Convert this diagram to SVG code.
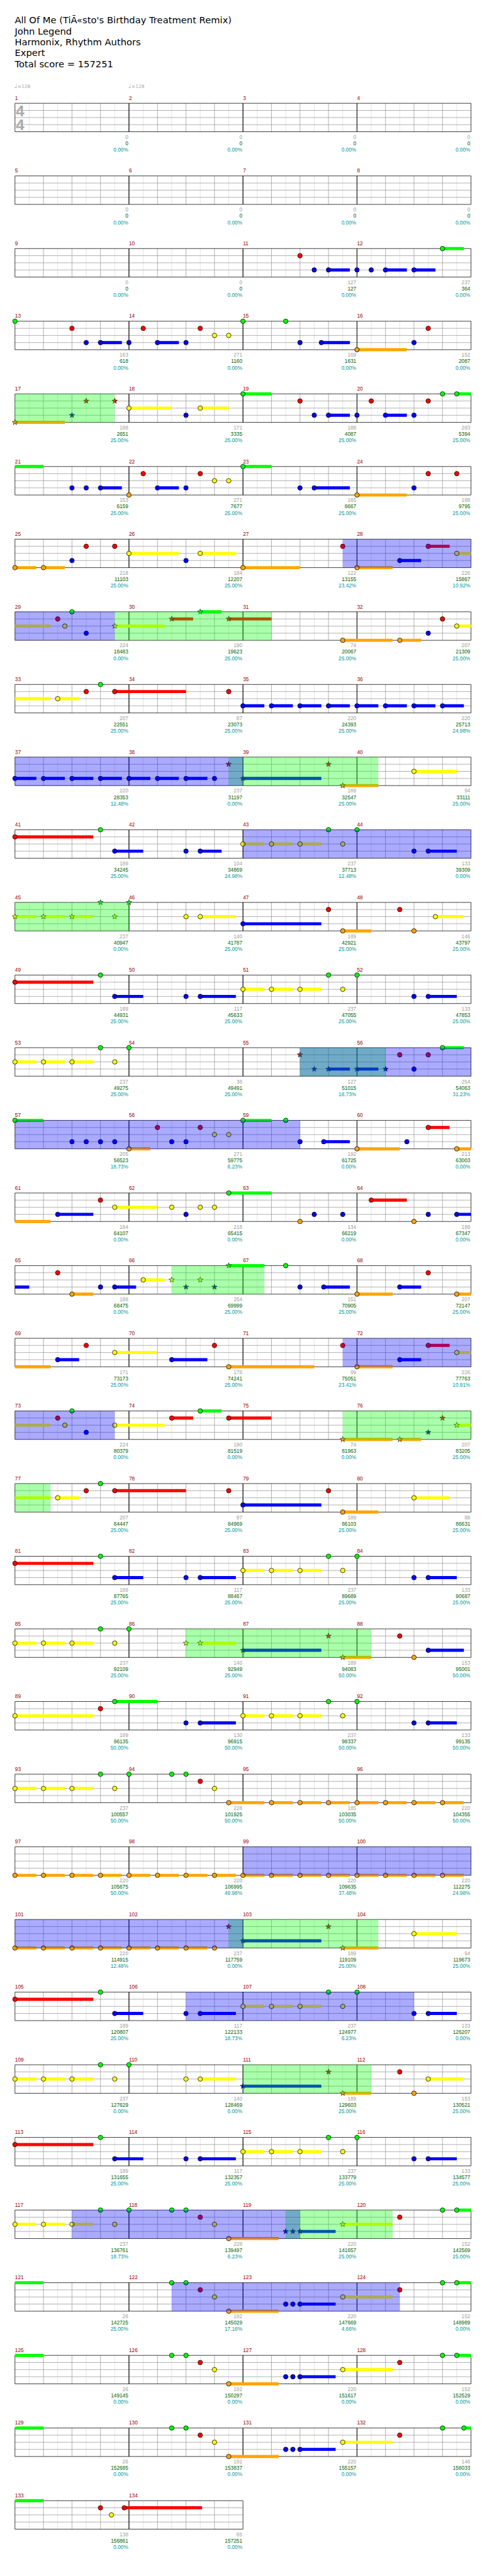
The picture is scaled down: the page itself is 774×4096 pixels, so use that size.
<svg xmlns="http://www.w3.org/2000/svg" width="774" height="4096" viewBox="0 0 774 4096">
<style>
.hd{font-family:"DejaVu Sans","Liberation Sans",sans-serif;font-size:19.5px;fill:#000}
.mn{font-family:"Liberation Sans",Arial,sans-serif;font-size:11px;fill:#900}
.s1,.s2,.s3{font-family:"Liberation Sans",Arial,sans-serif;font-size:11px;text-anchor:end}
.s1{fill:#a0a0a0}.s2{fill:#006400}.s3{fill:#009999}
.ts{font-family:"Liberation Sans",Arial,sans-serif;font-size:32px;font-weight:bold;fill:#aaa}
.tp{font-family:"DejaVu Sans",sans-serif;fill:#aaa}
circle{stroke:#000;stroke-width:1}
.g{fill:#0f0}.r{fill:#f00}.y{fill:#ff0}.b{fill:#00f}.o{fill:#ffa500}
.sg,.sr,.sy,.sb,.so{fill:none;stroke-width:6.5}
.sg{stroke:#0f0}.sr{stroke:#f00}.sy{stroke:#ff0}.sb{stroke:#00f}.so{stroke:#ffa500}
.od{fill:#0f0;fill-opacity:.333}
.bo{fill:#00f;fill-opacity:.333}
</style>
<defs>
<path id="st" d="M0,-6L1.41,-1.94L5.71,-1.85L2.28,.74L3.53,4.85L0,2.4L-3.53,4.85L-2.28,.74L-5.71,-1.85L-1.41,-1.94Z" stroke="#000" stroke-width=".8"/>
<g id="m" fill="none">
<path d="M30 0V60M90 0V60M150 0V60M210 0V60" stroke="#ddd"/>
<path d="M60 0V60M120 0V60M180 0V60M0 15H240M0 30H240M0 45H240" stroke="#999"/>
<path d="M0 0H240M0 60H240M0 0V60M240 0V60" stroke="#000"/>
</g>
<g id="pA">
<path class="sr" d="M0 15h165"/>
<path class="sb" d="M210 45h60M390 45h75M870 45h60"/>
<path class="sy" d="M480 30h45M540 30h45M600 30h45"/>
<circle class="r" cx="0" cy="15" r="4.8"/><circle class="g" cx="180" cy="0" r="4.8"/><circle class="b" cx="210" cy="45" r="4.8"/><circle class="b" cx="360" cy="45" r="4.8"/><circle class="b" cx="390" cy="45" r="4.8"/><circle class="y" cx="480" cy="30" r="4.8"/><circle class="y" cx="540" cy="30" r="4.8"/><circle class="y" cx="600" cy="30" r="4.8"/><circle class="g" cx="660" cy="0" r="4.8"/><circle class="y" cx="690" cy="30" r="4.8"/><circle class="g" cx="720" cy="0" r="4.8"/><circle class="b" cx="840" cy="45" r="4.8"/><circle class="b" cx="870" cy="45" r="4.8"/>
</g>
<g id="pB">
<path class="sg" d="M0 0h60"/>
<path class="so" d="M450 60h105"/>
<path class="sb" d="M600 45h75"/>
<path class="sy" d="M690 30h105"/>
<circle class="g" cx="330" cy="0" r="4.8"/><circle class="g" cx="360" cy="0" r="4.8"/><circle class="r" cx="390" cy="15" r="4.8"/><circle class="y" cx="420" cy="30" r="4.8"/><circle class="o" cx="450" cy="60" r="4.8"/><circle class="b" cx="570" cy="45" r="4.8"/><circle class="b" cx="585" cy="45" r="4.8"/><circle class="b" cx="600" cy="45" r="4.8"/><circle class="y" cx="690" cy="30" r="4.8"/><circle class="r" cx="810" cy="15" r="4.8"/><circle class="g" cx="900" cy="0" r="4.8"/>
</g>
<g id="pC">
<path class="sy" d="M0 30h45M60 30h45M120 30h45"/>
<circle class="y" cx="0" cy="30" r="4.8"/><circle class="y" cx="60" cy="30" r="4.8"/><circle class="y" cx="120" cy="30" r="4.8"/><circle class="g" cx="180" cy="0" r="4.8"/><circle class="y" cx="210" cy="30" r="4.8"/><circle class="g" cx="240" cy="0" r="4.8"/>
</g>
</defs>
<g transform="scale(0.755)">
<g id="header" class="hd">
<text x="31" y="49.3">All Of Me (TiÃ«sto's Birthday Treatment Remix)</text>
<text x="31" y="72.3">John Legend</text>
<text x="31" y="95.3">Harmonix, Rhythm Authors</text>
<text x="31" y="118.3">Expert</text>
<text x="31" y="141.3">Total score = 157251</text>
</g>
<g id="tempo" class="tp">
<text x="30" y="185" font-size="14">♩<tspan font-size="10">=128</tspan></text>
<text x="270" y="185" font-size="14">♩<tspan font-size="10">=128</tspan></text>
</g>

<g id="r1" transform="translate(31.5,217.5)">
<use href="#m"/><use href="#m" x="240"/><use href="#m" x="480"/><use href="#m" x="720"/>
<text class="ts" x="2" y="27.5">4</text><text class="ts" x="2" y="56.5">4</text>
<text class="mn" y="-7"><tspan x="0">1</tspan><tspan x="240">2</tspan><tspan x="480">3</tspan><tspan x="720">4</tspan></text>
<text class="s1" y="75"><tspan x="238.5">0</tspan><tspan x="478.5">0</tspan><tspan x="718.5">0</tspan><tspan x="958.5">0</tspan></text>
<text class="s2" y="88.3"><tspan x="238.5">0</tspan><tspan x="478.5">0</tspan><tspan x="718.5">0</tspan><tspan x="958.5">0</tspan></text>
<text class="s3" y="101.7"><tspan x="238.5">0.00%</tspan><tspan x="478.5">0.00%</tspan><tspan x="718.5">0.00%</tspan><tspan x="958.5">0.00%</tspan></text>
</g>

<g id="r2" transform="translate(31.5,370.5)">
<use href="#m"/><use href="#m" x="240"/><use href="#m" x="480"/><use href="#m" x="720"/>
<text class="mn" y="-7"><tspan x="0">5</tspan><tspan x="240">6</tspan><tspan x="480">7</tspan><tspan x="720">8</tspan></text>
<text class="s1" y="75"><tspan x="238.5">0</tspan><tspan x="478.5">0</tspan><tspan x="718.5">0</tspan><tspan x="958.5">0</tspan></text>
<text class="s2" y="88.3"><tspan x="238.5">0</tspan><tspan x="478.5">0</tspan><tspan x="718.5">0</tspan><tspan x="958.5">0</tspan></text>
<text class="s3" y="101.7"><tspan x="238.5">0.00%</tspan><tspan x="478.5">0.00%</tspan><tspan x="718.5">0.00%</tspan><tspan x="958.5">0.00%</tspan></text>
</g>

<g id="r3" transform="translate(31.5,523.5)">
<use href="#m"/><use href="#m" x="240"/><use href="#m" x="480"/><use href="#m" x="720"/>
<path class="sb" d="M660 45h45M780 45h45M840 45h45"/><path class="sg" d="M900 0h45"/>
<circle class="r" cx="600" cy="15" r="4.8"/><circle class="b" cx="630" cy="45" r="4.8"/><circle class="b" cx="660" cy="45" r="4.8"/><circle class="b" cx="720" cy="45" r="4.8"/><circle class="b" cx="750" cy="45" r="4.8"/><circle class="b" cx="780" cy="45" r="4.8"/><circle class="b" cx="840" cy="45" r="4.8"/><circle class="g" cx="900" cy="0" r="4.8"/>
<text class="mn" y="-7"><tspan x="0">9</tspan><tspan x="240">10</tspan><tspan x="480">11</tspan><tspan x="720">12</tspan></text>
<text class="s1" y="75"><tspan x="238.5">0</tspan><tspan x="478.5">0</tspan><tspan x="718.5">127</tspan><tspan x="958.5">237</tspan></text>
<text class="s2" y="88.3"><tspan x="238.5">0</tspan><tspan x="478.5">0</tspan><tspan x="718.5">127</tspan><tspan x="958.5">364</tspan></text>
<text class="s3" y="101.7"><tspan x="238.5">0.00%</tspan><tspan x="478.5">0.00%</tspan><tspan x="718.5">0.00%</tspan><tspan x="958.5">0.00%</tspan></text>
</g>

<g id="r4" transform="translate(31.5,676.5)">
<use href="#m"/><use href="#m" x="240"/><use href="#m" x="480"/><use href="#m" x="720"/>
<path class="sb" d="M180 45h45M300 45h45M645 45h60"/><path class="so" d="M720 60h105"/>
<circle class="g" cx="0" cy="0" r="4.8"/><circle class="r" cx="120" cy="15" r="4.8"/><circle class="b" cx="150" cy="45" r="4.8"/><circle class="b" cx="180" cy="45" r="4.8"/><circle class="b" cx="240" cy="45" r="4.8"/><circle class="r" cx="270" cy="15" r="4.8"/><circle class="b" cx="300" cy="45" r="4.8"/><circle class="b" cx="360" cy="45" r="4.8"/><circle class="r" cx="390" cy="15" r="4.8"/><circle class="y" cx="420" cy="30" r="4.8"/><circle class="y" cx="450" cy="30" r="4.8"/><circle class="g" cx="480" cy="0" r="4.8"/><circle class="g" cx="570" cy="0" r="4.8"/><circle class="b" cx="600" cy="45" r="4.8"/><circle class="b" cx="645" cy="45" r="4.8"/><circle class="o" cx="720" cy="60" r="4.8"/><circle class="b" cx="840" cy="45" r="4.8"/><circle class="r" cx="870" cy="15" r="4.8"/>
<text class="mn" y="-7"><tspan x="0">13</tspan><tspan x="240">14</tspan><tspan x="480">15</tspan><tspan x="720">16</tspan></text>
<text class="s1" y="75"><tspan x="238.5">163</tspan><tspan x="478.5">271</tspan><tspan x="718.5">169</tspan><tspan x="958.5">152</tspan></text>
<text class="s2" y="88.3"><tspan x="238.5">618</tspan><tspan x="478.5">1160</tspan><tspan x="718.5">1631</tspan><tspan x="958.5">2087</tspan></text>
<text class="s3" y="101.7"><tspan x="238.5">0.00%</tspan><tspan x="478.5">0.00%</tspan><tspan x="718.5">0.00%</tspan><tspan x="958.5">0.00%</tspan></text>
</g>

<g id="r5" transform="translate(31.5,829.5)">
<use href="#m"/><use href="#m" x="240"/><use href="#m" x="480"/><use href="#m" x="720"/>
<path class="so" d="M0 60h105"/><path class="sy" d="M240 30h90M390 30h60"/><path class="sg" d="M480 0h60M930 0h30"/><path class="sb" d="M660 45h45M780 45h45"/>
<use href="#st" class="o" x="0" y="60"/><use href="#st" class="b" x="120" y="45"/><use href="#st" class="r" x="150" y="15"/><use href="#st" class="r" x="210" y="15"/>
<circle class="y" cx="240" cy="30" r="4.8"/><circle class="b" cx="360" cy="45" r="4.8"/><circle class="y" cx="390" cy="30" r="4.8"/><circle class="g" cx="480" cy="0" r="4.8"/><circle class="r" cx="600" cy="15" r="4.8"/><circle class="b" cx="630" cy="45" r="4.8"/><circle class="b" cx="660" cy="45" r="4.8"/><circle class="b" cx="720" cy="45" r="4.8"/><circle class="r" cx="750" cy="15" r="4.8"/><circle class="b" cx="780" cy="45" r="4.8"/><circle class="b" cx="840" cy="45" r="4.8"/><circle class="r" cx="870" cy="15" r="4.8"/><circle class="g" cx="900" cy="0" r="4.8"/><circle class="g" cx="930" cy="0" r="4.8"/>
<rect class="od" x="0" y="0" width="210" height="60"/>
<text class="mn" y="-7"><tspan x="0">17</tspan><tspan x="240">18</tspan><tspan x="480">19</tspan><tspan x="720">20</tspan></text>
<text class="s1" y="75"><tspan x="238.5">188</tspan><tspan x="478.5">171</tspan><tspan x="718.5">188</tspan><tspan x="958.5">283</tspan></text>
<text class="s2" y="88.3"><tspan x="238.5">2651</tspan><tspan x="478.5">3335</tspan><tspan x="718.5">4087</tspan><tspan x="958.5">5394</tspan></text>
<text class="s3" y="101.7"><tspan x="238.5">25.00%</tspan><tspan x="478.5">25.00%</tspan><tspan x="718.5">25.00%</tspan><tspan x="958.5">25.00%</tspan></text>
</g>

<g id="r6" transform="translate(31.5,982.5)">
<use href="#m"/><use href="#m" x="240"/><use href="#m" x="480"/><use href="#m" x="720"/>
<path class="sg" d="M0 0h60M480 0h60"/><path class="sb" d="M180 45h45M300 45h45M630 45h75"/><path class="so" d="M720 60h105"/>
<circle class="b" cx="120" cy="45" r="4.8"/><circle class="b" cx="150" cy="45" r="4.8"/><circle class="b" cx="180" cy="45" r="4.8"/><circle class="o" cx="240" cy="60" r="4.8"/><circle class="r" cx="270" cy="15" r="4.8"/><circle class="b" cx="300" cy="45" r="4.8"/><circle class="b" cx="360" cy="45" r="4.8"/><circle class="r" cx="390" cy="15" r="4.8"/><circle class="y" cx="420" cy="30" r="4.8"/><circle class="y" cx="450" cy="30" r="4.8"/><circle class="g" cx="480" cy="0" r="4.8"/><circle class="b" cx="600" cy="45" r="4.8"/><circle class="b" cx="630" cy="45" r="4.8"/><circle class="o" cx="720" cy="60" r="4.8"/><circle class="b" cx="840" cy="45" r="4.8"/><circle class="r" cx="870" cy="15" r="4.8"/><circle class="r" cx="930" cy="15" r="4.8"/>
<text class="mn" y="-7"><tspan x="0">21</tspan><tspan x="240">22</tspan><tspan x="480">23</tspan><tspan x="720">24</tspan></text>
<text class="s1" y="75"><tspan x="238.5">153</tspan><tspan x="478.5">271</tspan><tspan x="718.5">165</tspan><tspan x="958.5">188</tspan></text>
<text class="s2" y="88.3"><tspan x="238.5">6159</tspan><tspan x="478.5">7677</tspan><tspan x="718.5">8667</tspan><tspan x="958.5">9795</tspan></text>
<text class="s3" y="101.7"><tspan x="238.5">25.00%</tspan><tspan x="478.5">25.00%</tspan><tspan x="718.5">25.00%</tspan><tspan x="958.5">25.00%</tspan></text>
</g>

<g id="r7" transform="translate(31.5,1135.5)">
<use href="#m"/><use href="#m" x="240"/><use href="#m" x="480"/><use href="#m" x="720"/>
<path class="so" d="M0 60h45M60 60h45M480 60h120M720 60h75"/><path class="sy" d="M240 30h105M390 30h75M930 30h30"/><path class="sb" d="M810 45h45"/><path class="sr" d="M870 15h45"/>
<circle class="o" cx="0" cy="60" r="4.8"/><circle class="o" cx="60" cy="60" r="4.8"/><circle class="b" cx="120" cy="45" r="4.8"/><circle class="r" cx="150" cy="15" r="4.8"/><circle class="r" cx="210" cy="15" r="4.8"/><circle class="y" cx="240" cy="30" r="4.8"/><circle class="b" cx="360" cy="45" r="4.8"/><circle class="y" cx="390" cy="30" r="4.8"/><circle class="o" cx="480" cy="60" r="4.8"/><circle class="r" cx="690" cy="15" r="4.8"/><circle class="o" cx="720" cy="60" r="4.8"/><circle class="b" cx="810" cy="45" r="4.8"/><circle class="r" cx="870" cy="15" r="4.8"/><circle class="y" cx="930" cy="30" r="4.8"/>
<rect class="bo" x="690" y="0" width="270" height="60"/>
<text class="mn" y="-7"><tspan x="0">25</tspan><tspan x="240">26</tspan><tspan x="480">27</tspan><tspan x="720">28</tspan></text>
<text class="s1" y="75"><tspan x="238.5">218</tspan><tspan x="478.5">184</tspan><tspan x="718.5">122</tspan><tspan x="958.5">226</tspan></text>
<text class="s2" y="88.3"><tspan x="238.5">11103</tspan><tspan x="478.5">12207</tspan><tspan x="718.5">13155</tspan><tspan x="958.5">15867</tspan></text>
<text class="s3" y="101.7"><tspan x="238.5">25.00%</tspan><tspan x="478.5">25.00%</tspan><tspan x="718.5">23.42%</tspan><tspan x="958.5">10.92%</tspan></text>
</g>

<g id="r8" transform="translate(31.5,1288.5)">
<use href="#m"/><use href="#m" x="240"/><use href="#m" x="480"/><use href="#m" x="720"/>
<path class="sy" d="M0 30h75M210 30h105M930 30h30"/><path class="sr" d="M330 15h45M450 15h90"/><path class="sg" d="M390 0h45"/><path class="so" d="M690 60h105M810 60h45"/>
<circle class="r" cx="90" cy="15" r="4.8"/><circle class="y" cx="105" cy="30" r="4.8"/><circle class="g" cx="120" cy="0" r="4.8"/><circle class="b" cx="150" cy="45" r="4.8"/>
<use href="#st" class="y" x="210" y="30"/><use href="#st" class="r" x="330" y="15"/><use href="#st" class="g" x="390" y="0"/><use href="#st" class="r" x="450" y="15"/>
<circle class="o" cx="690" cy="60" r="4.8"/><circle class="o" cx="810" cy="60" r="4.8"/><circle class="b" cx="870" cy="45" r="4.8"/><circle class="r" cx="900" cy="15" r="4.8"/><circle class="y" cx="930" cy="30" r="4.8"/>
<rect class="od" x="210" y="0" width="330" height="60"/><rect class="bo" x="0" y="0" width="210" height="60"/>
<text class="mn" y="-7"><tspan x="0">29</tspan><tspan x="240">30</tspan><tspan x="480">31</tspan><tspan x="720">32</tspan></text>
<text class="s1" y="75"><tspan x="238.5">224</tspan><tspan x="478.5">190</tspan><tspan x="718.5">74</tspan><tspan x="958.5">207</tspan></text>
<text class="s2" y="88.3"><tspan x="238.5">18483</tspan><tspan x="478.5">19623</tspan><tspan x="718.5">20067</tspan><tspan x="958.5">21309</tspan></text>
<text class="s3" y="101.7"><tspan x="238.5">0.00%</tspan><tspan x="478.5">25.00%</tspan><tspan x="718.5">25.00%</tspan><tspan x="958.5">25.00%</tspan></text>
</g>

<g id="r9" transform="translate(31.5,1441.5)">
<use href="#m"/><use href="#m" x="240"/><use href="#m" x="480"/><use href="#m" x="720"/>
<path class="sy" d="M0 30h75M90 30h45"/><path class="sr" d="M210 15h150"/><path class="sb" d="M480 45h45M540 45h45M600 45h45M660 45h45M720 45h45M780 45h45M840 45h45M900 45h45"/>
<circle class="y" cx="90" cy="30" r="4.8"/><circle class="r" cx="150" cy="15" r="4.8"/><circle class="g" cx="180" cy="0" r="4.8"/><circle class="r" cx="210" cy="15" r="4.8"/><circle class="r" cx="450" cy="15" r="4.8"/><circle class="b" cx="480" cy="45" r="4.8"/><circle class="b" cx="540" cy="45" r="4.8"/><circle class="b" cx="600" cy="45" r="4.8"/><circle class="b" cx="660" cy="45" r="4.8"/><circle class="b" cx="720" cy="45" r="4.8"/><circle class="b" cx="780" cy="45" r="4.8"/><circle class="b" cx="840" cy="45" r="4.8"/><circle class="b" cx="900" cy="45" r="4.8"/>
<text class="mn" y="-7"><tspan x="0">33</tspan><tspan x="240">34</tspan><tspan x="480">35</tspan><tspan x="720">36</tspan></text>
<text class="s1" y="75"><tspan x="238.5">207</tspan><tspan x="478.5">87</tspan><tspan x="718.5">220</tspan><tspan x="958.5">220</tspan></text>
<text class="s2" y="88.3"><tspan x="238.5">22551</tspan><tspan x="478.5">23073</tspan><tspan x="718.5">24393</tspan><tspan x="958.5">25713</tspan></text>
<text class="s3" y="101.7"><tspan x="238.5">25.00%</tspan><tspan x="478.5">25.00%</tspan><tspan x="718.5">25.00%</tspan><tspan x="958.5">24.98%</tspan></text>
</g>

<g id="r10" transform="translate(31.5,1594.5)">
<use href="#m"/><use href="#m" x="240"/><use href="#m" x="480"/><use href="#m" x="720"/>
<path class="sb" d="M0 45h45M60 45h45M120 45h45M180 45h45M240 45h45M300 45h45M360 45h45M480 45h165"/><path class="so" d="M690 60h75"/><path class="sy" d="M840 30h90"/>
<circle class="b" cx="0" cy="45" r="4.8"/><circle class="b" cx="60" cy="45" r="4.8"/><circle class="b" cx="120" cy="45" r="4.8"/><circle class="b" cx="180" cy="45" r="4.8"/><circle class="b" cx="240" cy="45" r="4.8"/><circle class="b" cx="300" cy="45" r="4.8"/><circle class="b" cx="360" cy="45" r="4.8"/><circle class="b" cx="420" cy="45" r="4.8"/>
<use href="#st" class="r" x="450" y="15"/><use href="#st" class="b" x="480" y="45"/><use href="#st" class="r" x="660" y="15"/><use href="#st" class="o" x="690" y="60"/>
<circle class="y" cx="840" cy="30" r="4.8"/>
<rect class="od" x="450" y="0" width="315" height="60"/><rect class="bo" x="0" y="0" width="480" height="60"/>
<text class="mn" y="-7"><tspan x="0">37</tspan><tspan x="240">38</tspan><tspan x="480">39</tspan><tspan x="720">40</tspan></text>
<text class="s1" y="75"><tspan x="238.5">220</tspan><tspan x="478.5">237</tspan><tspan x="718.5">189</tspan><tspan x="958.5">94</tspan></text>
<text class="s2" y="88.3"><tspan x="238.5">28353</tspan><tspan x="478.5">31197</tspan><tspan x="718.5">32547</tspan><tspan x="958.5">33111</tspan></text>
<text class="s3" y="101.7"><tspan x="238.5">12.48%</tspan><tspan x="478.5">0.00%</tspan><tspan x="718.5">25.00%</tspan><tspan x="958.5">25.00%</tspan></text>
</g>

<g id="r11" transform="translate(31.5,1747.5)">
<use href="#m"/><use href="#m" x="240"/><use href="#m" x="480"/><use href="#m" x="720"/>
<path class="sr" d="M0 15h165"/><path class="sb" d="M210 45h60M390 45h45M870 45h60"/><path class="sy" d="M480 30h45M540 30h45M600 30h45"/>
<circle class="r" cx="0" cy="15" r="4.8"/><circle class="g" cx="180" cy="0" r="4.8"/><circle class="b" cx="210" cy="45" r="4.8"/><circle class="b" cx="360" cy="45" r="4.8"/><circle class="b" cx="390" cy="45" r="4.8"/><circle class="y" cx="480" cy="30" r="4.8"/><circle class="y" cx="540" cy="30" r="4.8"/><circle class="y" cx="600" cy="30" r="4.8"/><circle class="g" cx="660" cy="0" r="4.8"/><circle class="y" cx="690" cy="30" r="4.8"/><circle class="g" cx="720" cy="0" r="4.8"/><circle class="b" cx="840" cy="45" r="4.8"/><circle class="b" cx="870" cy="45" r="4.8"/>
<rect class="bo" x="480" y="0" width="480" height="60"/>
<text class="mn" y="-7"><tspan x="0">41</tspan><tspan x="240">42</tspan><tspan x="480">43</tspan><tspan x="720">44</tspan></text>
<text class="s1" y="75"><tspan x="238.5">189</tspan><tspan x="478.5">104</tspan><tspan x="718.5">237</tspan><tspan x="958.5">133</tspan></text>
<text class="s2" y="88.3"><tspan x="238.5">34245</tspan><tspan x="478.5">34869</tspan><tspan x="718.5">37713</tspan><tspan x="958.5">39309</tspan></text>
<text class="s3" y="101.7"><tspan x="238.5">25.00%</tspan><tspan x="478.5">24.98%</tspan><tspan x="718.5">12.48%</tspan><tspan x="958.5">0.00%</tspan></text>
</g>

<g id="r12" transform="translate(31.5,1900.5)">
<use href="#m"/><use href="#m" x="240"/><use href="#m" x="480"/><use href="#m" x="720"/>
<path class="sy" d="M0 30h45M60 30h45M120 30h45M390 30h75M885 30h60"/><path class="sb" d="M480 45h165"/><path class="so" d="M690 60h60"/>
<use href="#st" class="y" x="0" y="30"/><use href="#st" class="y" x="60" y="30"/><use href="#st" class="y" x="120" y="30"/><use href="#st" class="g" x="180" y="0"/><use href="#st" class="y" x="210" y="30"/><use href="#st" class="g" x="240" y="0"/>
<circle class="y" cx="360" cy="30" r="4.8"/><circle class="y" cx="390" cy="30" r="4.8"/><circle class="b" cx="480" cy="45" r="4.8"/><circle class="r" cx="660" cy="15" r="4.8"/><circle class="o" cx="690" cy="60" r="4.8"/><circle class="r" cx="810" cy="15" r="4.8"/><circle class="o" cx="840" cy="60" r="4.8"/><circle class="y" cx="885" cy="30" r="4.8"/>
<rect class="od" x="0" y="0" width="240" height="60"/>
<text class="mn" y="-7"><tspan x="0">45</tspan><tspan x="240">46</tspan><tspan x="480">47</tspan><tspan x="720">48</tspan></text>
<text class="s1" y="75"><tspan x="238.5">237</tspan><tspan x="478.5">140</tspan><tspan x="718.5">189</tspan><tspan x="958.5">146</tspan></text>
<text class="s2" y="88.3"><tspan x="238.5">40947</tspan><tspan x="478.5">41787</tspan><tspan x="718.5">42921</tspan><tspan x="958.5">43797</tspan></text>
<text class="s3" y="101.7"><tspan x="238.5">0.00%</tspan><tspan x="478.5">25.00%</tspan><tspan x="718.5">25.00%</tspan><tspan x="958.5">25.00%</tspan></text>
</g>

<g id="r13" transform="translate(31.5,2053.5)">
<use href="#m"/><use href="#m" x="240"/><use href="#m" x="480"/><use href="#m" x="720"/>
<use href="#pA"/>
<text class="mn" y="-7"><tspan x="0">49</tspan><tspan x="240">50</tspan><tspan x="480">51</tspan><tspan x="720">52</tspan></text>
<text class="s1" y="75"><tspan x="238.5">189</tspan><tspan x="478.5">117</tspan><tspan x="718.5">237</tspan><tspan x="958.5">133</tspan></text>
<text class="s2" y="88.3"><tspan x="238.5">44931</tspan><tspan x="478.5">45633</tspan><tspan x="718.5">47055</tspan><tspan x="958.5">47853</tspan></text>
<text class="s3" y="101.7"><tspan x="238.5">25.00%</tspan><tspan x="478.5">25.00%</tspan><tspan x="718.5">25.00%</tspan><tspan x="958.5">25.00%</tspan></text>
</g>

<g id="r14" transform="translate(31.5,2206.5)">
<use href="#m"/><use href="#m" x="240"/><use href="#m" x="480"/><use href="#m" x="720"/>
<use href="#pC"/>
<path class="sb" d="M660 45h45M720 45h45"/><path class="sg" d="M900 0h45"/>
<use href="#st" class="r" x="600" y="15"/><use href="#st" class="b" x="630" y="45"/><use href="#st" class="b" x="660" y="45"/><use href="#st" class="b" x="720" y="45"/><use href="#st" class="b" x="780" y="45"/>
<circle class="r" cx="810" cy="15" r="4.8"/><circle class="b" cx="840" cy="45" r="4.8"/><circle class="r" cx="870" cy="15" r="4.8"/><circle class="g" cx="900" cy="0" r="4.8"/>
<rect class="od" x="600" y="0" width="180" height="60"/><rect class="bo" x="600" y="0" width="360" height="60"/>
<text class="mn" y="-7"><tspan x="0">53</tspan><tspan x="240">54</tspan><tspan x="480">55</tspan><tspan x="720">56</tspan></text>
<text class="s1" y="75"><tspan x="238.5">237</tspan><tspan x="478.5">36</tspan><tspan x="718.5">127</tspan><tspan x="958.5">254</tspan></text>
<text class="s2" y="88.3"><tspan x="238.5">49275</tspan><tspan x="478.5">49491</tspan><tspan x="718.5">51015</tspan><tspan x="958.5">54063</tspan></text>
<text class="s3" y="101.7"><tspan x="238.5">25.00%</tspan><tspan x="478.5">25.00%</tspan><tspan x="718.5">18.73%</tspan><tspan x="958.5">31.23%</tspan></text>
</g>

<g id="r15" transform="translate(31.5,2359.5)">
<use href="#m"/><use href="#m" x="240"/><use href="#m" x="480"/><use href="#m" x="720"/>
<path class="sg" d="M0 0h60M480 0h60"/><path class="so" d="M240 60h45M720 60h90M930 60h30"/><path class="sb" d="M650 45h55"/><path class="sr" d="M870 15h45"/>
<circle class="g" cx="0" cy="0" r="4.8"/><circle class="b" cx="120" cy="45" r="4.8"/><circle class="b" cx="150" cy="45" r="4.8"/><circle class="b" cx="180" cy="45" r="4.8"/><circle class="b" cx="210" cy="45" r="4.8"/><circle class="o" cx="240" cy="60" r="4.8"/><circle class="r" cx="300" cy="15" r="4.8"/><circle class="b" cx="330" cy="45" r="4.8"/><circle class="b" cx="360" cy="45" r="4.8"/><circle class="r" cx="390" cy="15" r="4.8"/><circle class="y" cx="420" cy="30" r="4.8"/><circle class="y" cx="450" cy="30" r="4.8"/><circle class="g" cx="480" cy="0" r="4.8"/><circle class="g" cx="570" cy="0" r="4.8"/><circle class="b" cx="600" cy="45" r="4.8"/><circle class="b" cx="650" cy="45" r="4.8"/><circle class="o" cx="720" cy="60" r="4.8"/><circle class="b" cx="825" cy="45" r="4.8"/><circle class="r" cx="870" cy="15" r="4.8"/><circle class="o" cx="930" cy="60" r="4.8"/>
<rect class="bo" x="0" y="0" width="600" height="60"/>
<text class="mn" y="-7"><tspan x="0">57</tspan><tspan x="240">58</tspan><tspan x="480">59</tspan><tspan x="720">60</tspan></text>
<text class="s1" y="75"><tspan x="238.5">205</tspan><tspan x="478.5">271</tspan><tspan x="718.5">192</tspan><tspan x="958.5">213</tspan></text>
<text class="s2" y="88.3"><tspan x="238.5">56523</tspan><tspan x="478.5">59775</tspan><tspan x="718.5">61725</tspan><tspan x="958.5">63003</tspan></text>
<text class="s3" y="101.7"><tspan x="238.5">18.73%</tspan><tspan x="478.5">6.23%</tspan><tspan x="718.5">0.00%</tspan><tspan x="958.5">0.00%</tspan></text>
</g>

<g id="r16" transform="translate(31.5,2512.5)">
<use href="#m"/><use href="#m" x="240"/><use href="#m" x="480"/><use href="#m" x="720"/>
<path class="so" d="M0 60h75"/><path class="sb" d="M90 45h75M930 45h30"/><path class="sy" d="M210 30h90"/><path class="sg" d="M450 0h90"/><path class="sr" d="M750 15h75"/>
<circle class="b" cx="90" cy="45" r="4.8"/><circle class="r" cx="180" cy="15" r="4.8"/><circle class="y" cx="210" cy="30" r="4.8"/><circle class="y" cx="330" cy="30" r="4.8"/><circle class="b" cx="360" cy="45" r="4.8"/><circle class="y" cx="390" cy="30" r="4.8"/><circle class="y" cx="420" cy="30" r="4.8"/><circle class="g" cx="450" cy="0" r="4.8"/><circle class="o" cx="600" cy="60" r="4.8"/><circle class="b" cx="630" cy="45" r="4.8"/><circle class="b" cx="690" cy="45" r="4.8"/><circle class="r" cx="750" cy="15" r="4.8"/><circle class="o" cx="840" cy="60" r="4.8"/><circle class="b" cx="870" cy="45" r="4.8"/><circle class="b" cx="930" cy="45" r="4.8"/>
<text class="mn" y="-7"><tspan x="0">61</tspan><tspan x="240">62</tspan><tspan x="480">63</tspan><tspan x="720">64</tspan></text>
<text class="s1" y="75"><tspan x="238.5">184</tspan><tspan x="478.5">218</tspan><tspan x="718.5">134</tspan><tspan x="958.5">188</tspan></text>
<text class="s2" y="88.3"><tspan x="238.5">64107</tspan><tspan x="478.5">65415</tspan><tspan x="718.5">66219</tspan><tspan x="958.5">67347</tspan></text>
<text class="s3" y="101.7"><tspan x="238.5">0.00%</tspan><tspan x="478.5">0.00%</tspan><tspan x="718.5">0.00%</tspan><tspan x="958.5">0.00%</tspan></text>
</g>

<g id="r17" transform="translate(31.5,2665.5)">
<use href="#m"/><use href="#m" x="240"/><use href="#m" x="480"/><use href="#m" x="720"/>
<path class="sb" d="M0 45h30M210 45h45M650 45h55M810 45h45"/><path class="so" d="M120 60h45M720 60h75M930 60h30"/><path class="sy" d="M270 30h45"/><path class="sg" d="M450 0h75"/>
<circle class="r" cx="90" cy="15" r="4.8"/><circle class="o" cx="120" cy="60" r="4.8"/><circle class="b" cx="180" cy="45" r="4.8"/><circle class="b" cx="210" cy="45" r="4.8"/><circle class="y" cx="270" cy="30" r="4.8"/>
<use href="#st" class="y" x="330" y="30"/><use href="#st" class="b" x="360" y="45"/><use href="#st" class="y" x="390" y="30"/><use href="#st" class="b" x="420" y="45"/><use href="#st" class="g" x="450" y="0"/>
<circle class="g" cx="570" cy="0" r="4.8"/><circle class="b" cx="600" cy="45" r="4.8"/><circle class="b" cx="650" cy="45" r="4.8"/><circle class="o" cx="720" cy="60" r="4.8"/><circle class="b" cx="810" cy="45" r="4.8"/><circle class="r" cx="870" cy="15" r="4.8"/><circle class="o" cx="930" cy="60" r="4.8"/>
<rect class="od" x="330" y="0" width="195" height="60"/>
<text class="mn" y="-7"><tspan x="0">65</tspan><tspan x="240">66</tspan><tspan x="480">67</tspan><tspan x="720">68</tspan></text>
<text class="s1" y="75"><tspan x="238.5">188</tspan><tspan x="478.5">254</tspan><tspan x="718.5">151</tspan><tspan x="958.5">207</tspan></text>
<text class="s2" y="88.3"><tspan x="238.5">68475</tspan><tspan x="478.5">69999</tspan><tspan x="718.5">70905</tspan><tspan x="958.5">72147</tspan></text>
<text class="s3" y="101.7"><tspan x="238.5">0.00%</tspan><tspan x="478.5">25.00%</tspan><tspan x="718.5">25.00%</tspan><tspan x="958.5">25.00%</tspan></text>
</g>

<g id="r18" transform="translate(31.5,2818.5)">
<use href="#m"/><use href="#m" x="240"/><use href="#m" x="480"/><use href="#m" x="720"/>
<path class="so" d="M0 60h75M450 60h180M720 60h75"/><path class="sb" d="M90 45h45M330 45h75M810 45h45"/><path class="sy" d="M210 30h90M930 30h30"/><path class="sr" d="M870 15h45"/>
<circle class="b" cx="90" cy="45" r="4.8"/><circle class="r" cx="150" cy="15" r="4.8"/><circle class="y" cx="210" cy="30" r="4.8"/><circle class="b" cx="330" cy="45" r="4.8"/><circle class="r" cx="420" cy="15" r="4.8"/><circle class="o" cx="450" cy="60" r="4.8"/><circle class="r" cx="690" cy="15" r="4.8"/><circle class="o" cx="720" cy="60" r="4.8"/><circle class="b" cx="810" cy="45" r="4.8"/><circle class="r" cx="870" cy="15" r="4.8"/><circle class="y" cx="930" cy="30" r="4.8"/>
<rect class="bo" x="690" y="0" width="270" height="60"/>
<text class="mn" y="-7"><tspan x="0">69</tspan><tspan x="240">70</tspan><tspan x="480">71</tspan><tspan x="720">72</tspan></text>
<text class="s1" y="75"><tspan x="238.5">171</tspan><tspan x="478.5">178</tspan><tspan x="718.5">99</tspan><tspan x="958.5">226</tspan></text>
<text class="s2" y="88.3"><tspan x="238.5">73173</tspan><tspan x="478.5">74241</tspan><tspan x="718.5">75051</tspan><tspan x="958.5">77763</tspan></text>
<text class="s3" y="101.7"><tspan x="238.5">25.00%</tspan><tspan x="478.5">25.00%</tspan><tspan x="718.5">23.41%</tspan><tspan x="958.5">10.91%</tspan></text>
</g>

<g id="r19" transform="translate(31.5,2971.5)">
<use href="#m"/><use href="#m" x="240"/><use href="#m" x="480"/><use href="#m" x="720"/>
<path class="sy" d="M0 30h75M210 30h105M930 30h30"/><path class="sr" d="M330 15h45M450 15h90"/><path class="sg" d="M390 0h45"/><path class="so" d="M690 60h105M810 60h45"/>
<circle class="r" cx="90" cy="15" r="4.8"/><circle class="y" cx="105" cy="30" r="4.8"/><circle class="g" cx="120" cy="0" r="4.8"/><circle class="b" cx="150" cy="45" r="4.8"/><circle class="y" cx="210" cy="30" r="4.8"/><circle class="r" cx="330" cy="15" r="4.8"/><circle class="g" cx="390" cy="0" r="4.8"/><circle class="r" cx="450" cy="15" r="4.8"/>
<use href="#st" class="o" x="690" y="60"/><use href="#st" class="o" x="810" y="60"/><use href="#st" class="b" x="870" y="45"/><use href="#st" class="r" x="900" y="15"/><use href="#st" class="y" x="930" y="30"/>
<rect class="od" x="690" y="0" width="270" height="60"/><rect class="bo" x="0" y="0" width="210" height="60"/>
<text class="mn" y="-7"><tspan x="0">73</tspan><tspan x="240">74</tspan><tspan x="480">75</tspan><tspan x="720">76</tspan></text>
<text class="s1" y="75"><tspan x="238.5">224</tspan><tspan x="478.5">190</tspan><tspan x="718.5">74</tspan><tspan x="958.5">207</tspan></text>
<text class="s2" y="88.3"><tspan x="238.5">80379</tspan><tspan x="478.5">81519</tspan><tspan x="718.5">81963</tspan><tspan x="958.5">83205</tspan></text>
<text class="s3" y="101.7"><tspan x="238.5">0.00%</tspan><tspan x="478.5">0.00%</tspan><tspan x="718.5">0.00%</tspan><tspan x="958.5">25.00%</tspan></text>
</g>

<g id="r20" transform="translate(31.5,3124.5)">
<use href="#m"/><use href="#m" x="240"/><use href="#m" x="480"/><use href="#m" x="720"/>
<path class="sy" d="M0 30h75M90 30h45M840 30h75"/><path class="sr" d="M210 15h150"/><path class="sb" d="M480 45h165"/><path class="so" d="M690 60h75"/>
<circle class="y" cx="90" cy="30" r="4.8"/><circle class="r" cx="150" cy="15" r="4.8"/><circle class="g" cx="180" cy="0" r="4.8"/><circle class="r" cx="210" cy="15" r="4.8"/><circle class="r" cx="450" cy="15" r="4.8"/><circle class="b" cx="480" cy="45" r="4.8"/><circle class="r" cx="660" cy="15" r="4.8"/><circle class="o" cx="690" cy="60" r="4.8"/><circle class="y" cx="840" cy="30" r="4.8"/>
<rect class="od" x="0" y="0" width="75" height="60"/>
<text class="mn" y="-7"><tspan x="0">77</tspan><tspan x="240">78</tspan><tspan x="480">79</tspan><tspan x="720">80</tspan></text>
<text class="s1" y="75"><tspan x="238.5">207</tspan><tspan x="478.5">87</tspan><tspan x="718.5">189</tspan><tspan x="958.5">88</tspan></text>
<text class="s2" y="88.3"><tspan x="238.5">84447</tspan><tspan x="478.5">84969</tspan><tspan x="718.5">86103</tspan><tspan x="958.5">86631</tspan></text>
<text class="s3" y="101.7"><tspan x="238.5">25.00%</tspan><tspan x="478.5">25.00%</tspan><tspan x="718.5">25.00%</tspan><tspan x="958.5">25.00%</tspan></text>
</g>

<g id="r21" transform="translate(31.5,3277.5)">
<use href="#m"/><use href="#m" x="240"/><use href="#m" x="480"/><use href="#m" x="720"/>
<use href="#pA"/>
<text class="mn" y="-7"><tspan x="0">81</tspan><tspan x="240">82</tspan><tspan x="480">83</tspan><tspan x="720">84</tspan></text>
<text class="s1" y="75"><tspan x="238.5">189</tspan><tspan x="478.5">117</tspan><tspan x="718.5">237</tspan><tspan x="958.5">133</tspan></text>
<text class="s2" y="88.3"><tspan x="238.5">87765</tspan><tspan x="478.5">88467</tspan><tspan x="718.5">89689</tspan><tspan x="958.5">90687</tspan></text>
<text class="s3" y="101.7"><tspan x="238.5">25.00%</tspan><tspan x="478.5">25.00%</tspan><tspan x="718.5">25.00%</tspan><tspan x="958.5">25.00%</tspan></text>
</g>

<g id="r22" transform="translate(31.5,3430.5)">
<use href="#m"/><use href="#m" x="240"/><use href="#m" x="480"/><use href="#m" x="720"/>
<use href="#pC"/>
<path class="sy" d="M390 30h75"/><path class="sb" d="M480 45h165M870 45h75"/><path class="so" d="M690 60h60"/>
<use href="#st" class="y" x="360" y="30"/><use href="#st" class="y" x="390" y="30"/><use href="#st" class="b" x="480" y="45"/><use href="#st" class="r" x="660" y="15"/><use href="#st" class="o" x="690" y="60"/>
<circle class="r" cx="810" cy="15" r="4.8"/><circle class="o" cx="840" cy="60" r="4.8"/><circle class="b" cx="870" cy="45" r="4.8"/>
<rect class="od" x="360" y="0" width="390" height="60"/>
<text class="mn" y="-7"><tspan x="0">85</tspan><tspan x="240">86</tspan><tspan x="480">87</tspan><tspan x="720">88</tspan></text>
<text class="s1" y="75"><tspan x="238.5">237</tspan><tspan x="478.5">140</tspan><tspan x="718.5">189</tspan><tspan x="958.5">153</tspan></text>
<text class="s2" y="88.3"><tspan x="238.5">92109</tspan><tspan x="478.5">92949</tspan><tspan x="718.5">94083</tspan><tspan x="958.5">95001</tspan></text>
<text class="s3" y="101.7"><tspan x="238.5">25.00%</tspan><tspan x="478.5">25.00%</tspan><tspan x="718.5">50.00%</tspan><tspan x="958.5">50.00%</tspan></text>
</g>

<g id="r23" transform="translate(31.5,3583.5)">
<use href="#m"/><use href="#m" x="240"/><use href="#m" x="480"/><use href="#m" x="720"/>
<path class="sy" d="M0 30h165M480 30h45M540 30h45M600 30h45"/><path class="sg" d="M210 0h90"/><path class="sb" d="M390 45h75M870 45h60"/>
<circle class="y" cx="0" cy="30" r="4.8"/><circle class="r" cx="180" cy="15" r="4.8"/><circle class="g" cx="210" cy="0" r="4.8"/><circle class="b" cx="360" cy="45" r="4.8"/><circle class="b" cx="390" cy="45" r="4.8"/><circle class="y" cx="480" cy="30" r="4.8"/><circle class="y" cx="540" cy="30" r="4.8"/><circle class="y" cx="600" cy="30" r="4.8"/><circle class="g" cx="660" cy="0" r="4.8"/><circle class="y" cx="690" cy="30" r="4.8"/><circle class="g" cx="720" cy="0" r="4.8"/><circle class="b" cx="840" cy="45" r="4.8"/><circle class="b" cx="870" cy="45" r="4.8"/>
<text class="mn" y="-7"><tspan x="0">89</tspan><tspan x="240">90</tspan><tspan x="480">91</tspan><tspan x="720">92</tspan></text>
<text class="s1" y="75"><tspan x="238.5">189</tspan><tspan x="478.5">130</tspan><tspan x="718.5">237</tspan><tspan x="958.5">133</tspan></text>
<text class="s2" y="88.3"><tspan x="238.5">96135</tspan><tspan x="478.5">96915</tspan><tspan x="718.5">98337</tspan><tspan x="958.5">99135</tspan></text>
<text class="s3" y="101.7"><tspan x="238.5">50.00%</tspan><tspan x="478.5">50.00%</tspan><tspan x="718.5">50.00%</tspan><tspan x="958.5">50.00%</tspan></text>
</g>

<g id="r24" transform="translate(31.5,3736.5)">
<use href="#m"/><use href="#m" x="240"/><use href="#m" x="480"/><use href="#m" x="720"/>
<use href="#pC"/>
<path class="so" d="M450 60h75M540 60h45M600 60h45M660 60h45M720 60h45M780 60h45M840 60h45M900 60h45"/>
<circle class="g" cx="330" cy="0" r="4.8"/><circle class="g" cx="360" cy="0" r="4.8"/><circle class="r" cx="390" cy="15" r="4.8"/><circle class="y" cx="420" cy="30" r="4.8"/><circle class="o" cx="450" cy="60" r="4.8"/><circle class="o" cx="540" cy="60" r="4.8"/><circle class="o" cx="600" cy="60" r="4.8"/><circle class="o" cx="660" cy="60" r="4.8"/><circle class="o" cx="720" cy="60" r="4.8"/><circle class="o" cx="780" cy="60" r="4.8"/><circle class="o" cx="840" cy="60" r="4.8"/><circle class="o" cx="900" cy="60" r="4.8"/>
<text class="mn" y="-7"><tspan x="0">93</tspan><tspan x="240">94</tspan><tspan x="480">95</tspan><tspan x="720">96</tspan></text>
<text class="s1" y="75"><tspan x="238.5">237</tspan><tspan x="478.5">228</tspan><tspan x="718.5">185</tspan><tspan x="958.5">220</tspan></text>
<text class="s2" y="88.3"><tspan x="238.5">100557</tspan><tspan x="478.5">101925</tspan><tspan x="718.5">103035</tspan><tspan x="958.5">104355</tspan></text>
<text class="s3" y="101.7"><tspan x="238.5">50.00%</tspan><tspan x="478.5">50.00%</tspan><tspan x="718.5">50.00%</tspan><tspan x="958.5">50.00%</tspan></text>
</g>

<g id="r25" transform="translate(31.5,3889.5)">
<use href="#m"/><use href="#m" x="240"/><use href="#m" x="480"/><use href="#m" x="720"/>
<path class="so" d="M0 60h45M60 60h45M120 60h45M180 60h45M240 60h45M300 60h45M360 60h45M420 60h45M480 60h45M540 60h45M600 60h45M660 60h45M720 60h45M780 60h45M840 60h45M900 60h45"/>
<circle class="o" cx="0" cy="60" r="4.8"/><circle class="o" cx="60" cy="60" r="4.8"/><circle class="o" cx="120" cy="60" r="4.8"/><circle class="o" cx="180" cy="60" r="4.8"/><circle class="o" cx="240" cy="60" r="4.8"/><circle class="o" cx="300" cy="60" r="4.8"/><circle class="o" cx="360" cy="60" r="4.8"/><circle class="o" cx="420" cy="60" r="4.8"/><circle class="o" cx="480" cy="60" r="4.8"/><circle class="o" cx="540" cy="60" r="4.8"/><circle class="o" cx="600" cy="60" r="4.8"/><circle class="o" cx="660" cy="60" r="4.8"/><circle class="o" cx="720" cy="60" r="4.8"/><circle class="o" cx="780" cy="60" r="4.8"/><circle class="o" cx="840" cy="60" r="4.8"/><circle class="o" cx="900" cy="60" r="4.8"/>
<rect class="bo" x="480" y="0" width="480" height="60"/>
<text class="mn" y="-7"><tspan x="0">97</tspan><tspan x="240">98</tspan><tspan x="480">99</tspan><tspan x="720">100</tspan></text>
<text class="s1" y="75"><tspan x="238.5">220</tspan><tspan x="478.5">220</tspan><tspan x="718.5">220</tspan><tspan x="958.5">220</tspan></text>
<text class="s2" y="88.3"><tspan x="238.5">105675</tspan><tspan x="478.5">106995</tspan><tspan x="718.5">109635</tspan><tspan x="958.5">112275</tspan></text>
<text class="s3" y="101.7"><tspan x="238.5">50.00%</tspan><tspan x="478.5">49.98%</tspan><tspan x="718.5">37.48%</tspan><tspan x="958.5">24.98%</tspan></text>
</g>

<g id="r26" transform="translate(31.5,4042.5)">
<use href="#m"/><use href="#m" x="240"/><use href="#m" x="480"/><use href="#m" x="720"/>
<path class="so" d="M0 60h45M60 60h45M120 60h45M180 60h45M240 60h45M300 60h45M360 60h45M690 60h75"/><path class="sb" d="M480 45h165"/><path class="sy" d="M840 30h90"/>
<circle class="o" cx="0" cy="60" r="4.8"/><circle class="o" cx="60" cy="60" r="4.8"/><circle class="o" cx="120" cy="60" r="4.8"/><circle class="o" cx="180" cy="60" r="4.8"/><circle class="o" cx="240" cy="60" r="4.8"/><circle class="o" cx="300" cy="60" r="4.8"/><circle class="o" cx="360" cy="60" r="4.8"/><circle class="o" cx="420" cy="60" r="4.8"/>
<use href="#st" class="r" x="450" y="15"/><use href="#st" class="b" x="480" y="45"/><use href="#st" class="r" x="660" y="15"/><use href="#st" class="o" x="690" y="60"/>
<circle class="y" cx="840" cy="30" r="4.8"/>
<rect class="od" x="450" y="0" width="315" height="60"/><rect class="bo" x="0" y="0" width="480" height="60"/>
<text class="mn" y="-7"><tspan x="0">101</tspan><tspan x="240">102</tspan><tspan x="480">103</tspan><tspan x="720">104</tspan></text>
<text class="s1" y="75"><tspan x="238.5">220</tspan><tspan x="478.5">237</tspan><tspan x="718.5">189</tspan><tspan x="958.5">94</tspan></text>
<text class="s2" y="88.3"><tspan x="238.5">114915</tspan><tspan x="478.5">117759</tspan><tspan x="718.5">119109</tspan><tspan x="958.5">119673</tspan></text>
<text class="s3" y="101.7"><tspan x="238.5">12.48%</tspan><tspan x="478.5">0.00%</tspan><tspan x="718.5">25.00%</tspan><tspan x="958.5">25.00%</tspan></text>
</g>

<g id="r27" transform="translate(31.5,4195.5)">
<use href="#m"/><use href="#m" x="240"/><use href="#m" x="480"/><use href="#m" x="720"/>
<use href="#pA"/>
<rect class="bo" x="360" y="0" width="480" height="60"/>
<text class="mn" y="-7"><tspan x="0">105</tspan><tspan x="240">106</tspan><tspan x="480">107</tspan><tspan x="720">108</tspan></text>
<text class="s1" y="75"><tspan x="238.5">189</tspan><tspan x="478.5">117</tspan><tspan x="718.5">237</tspan><tspan x="958.5">133</tspan></text>
<text class="s2" y="88.3"><tspan x="238.5">120807</tspan><tspan x="478.5">122133</tspan><tspan x="718.5">124977</tspan><tspan x="958.5">126207</tspan></text>
<text class="s3" y="101.7"><tspan x="238.5">25.00%</tspan><tspan x="478.5">18.73%</tspan><tspan x="718.5">6.23%</tspan><tspan x="958.5">0.00%</tspan></text>
</g>

<g id="r28" transform="translate(31.5,4348.5)">
<use href="#m"/><use href="#m" x="240"/><use href="#m" x="480"/><use href="#m" x="720"/>
<use href="#pC"/>
<path class="sy" d="M390 30h75M870 30h75"/><path class="sb" d="M480 45h165"/><path class="so" d="M690 60h60"/>
<circle class="y" cx="360" cy="30" r="4.8"/><circle class="y" cx="390" cy="30" r="4.8"/>
<use href="#st" class="b" x="480" y="45"/><use href="#st" class="r" x="660" y="15"/><use href="#st" class="o" x="690" y="60"/>
<circle class="r" cx="810" cy="15" r="4.8"/><circle class="o" cx="840" cy="60" r="4.8"/><circle class="y" cx="870" cy="30" r="4.8"/>
<rect class="od" x="480" y="0" width="270" height="60"/>
<text class="mn" y="-7"><tspan x="0">109</tspan><tspan x="240">110</tspan><tspan x="480">111</tspan><tspan x="720">112</tspan></text>
<text class="s1" y="75"><tspan x="238.5">237</tspan><tspan x="478.5">140</tspan><tspan x="718.5">189</tspan><tspan x="958.5">153</tspan></text>
<text class="s2" y="88.3"><tspan x="238.5">127629</tspan><tspan x="478.5">128469</tspan><tspan x="718.5">129603</tspan><tspan x="958.5">130521</tspan></text>
<text class="s3" y="101.7"><tspan x="238.5">0.00%</tspan><tspan x="478.5">0.00%</tspan><tspan x="718.5">25.00%</tspan><tspan x="958.5">25.00%</tspan></text>
</g>

<g id="r29" transform="translate(31.5,4501.5)">
<use href="#m"/><use href="#m" x="240"/><use href="#m" x="480"/><use href="#m" x="720"/>
<use href="#pA"/>
<text class="mn" y="-7"><tspan x="0">113</tspan><tspan x="240">114</tspan><tspan x="480">115</tspan><tspan x="720">116</tspan></text>
<text class="s1" y="75"><tspan x="238.5">189</tspan><tspan x="478.5">117</tspan><tspan x="718.5">237</tspan><tspan x="958.5">133</tspan></text>
<text class="s2" y="88.3"><tspan x="238.5">131655</tspan><tspan x="478.5">132357</tspan><tspan x="718.5">133779</tspan><tspan x="958.5">134577</tspan></text>
<text class="s3" y="101.7"><tspan x="238.5">25.00%</tspan><tspan x="478.5">25.00%</tspan><tspan x="718.5">25.00%</tspan><tspan x="958.5">25.00%</tspan></text>
</g>

<g id="r30" transform="translate(31.5,4654.5)">
<use href="#m"/><use href="#m" x="240"/><use href="#m" x="480"/><use href="#m" x="720"/>
<path class="sy" d="M0 30h45M60 30h45M120 30h45M690 30h105"/><path class="so" d="M450 60h105"/><path class="sb" d="M600 45h75"/><path class="sg" d="M930 0h30"/>
<circle class="y" cx="0" cy="30" r="4.8"/><circle class="y" cx="60" cy="30" r="4.8"/><circle class="y" cx="120" cy="30" r="4.8"/><circle class="g" cx="180" cy="0" r="4.8"/><circle class="y" cx="210" cy="30" r="4.8"/><circle class="g" cx="240" cy="0" r="4.8"/><circle class="g" cx="330" cy="0" r="4.8"/><circle class="g" cx="360" cy="0" r="4.8"/><circle class="r" cx="390" cy="15" r="4.8"/><circle class="y" cx="420" cy="30" r="4.8"/><circle class="o" cx="450" cy="60" r="4.8"/>
<use href="#st" class="b" x="570" y="45"/><use href="#st" class="b" x="585" y="45"/><use href="#st" class="b" x="600" y="45"/><use href="#st" class="y" x="690" y="30"/>
<circle class="r" cx="810" cy="15" r="4.8"/><circle class="g" cx="900" cy="0" r="4.8"/><circle class="g" cx="930" cy="0" r="4.8"/>
<rect class="od" x="570" y="0" width="225" height="60"/><rect class="bo" x="120" y="0" width="480" height="60"/>
<text class="mn" y="-7"><tspan x="0">117</tspan><tspan x="240">118</tspan><tspan x="480">119</tspan><tspan x="720">120</tspan></text>
<text class="s1" y="75"><tspan x="238.5">237</tspan><tspan x="478.5">228</tspan><tspan x="718.5">220</tspan><tspan x="958.5">152</tspan></text>
<text class="s2" y="88.3"><tspan x="238.5">136761</tspan><tspan x="478.5">139497</tspan><tspan x="718.5">141657</tspan><tspan x="958.5">142569</tspan></text>
<text class="s3" y="101.7"><tspan x="238.5">18.73%</tspan><tspan x="478.5">6.23%</tspan><tspan x="718.5">25.00%</tspan><tspan x="958.5">25.00%</tspan></text>
</g>

<g id="r31" transform="translate(31.5,4807.5)">
<use href="#m"/><use href="#m" x="240"/><use href="#m" x="480"/><use href="#m" x="720"/>
<use href="#pB"/>
<path class="sg" d="M930 0h30"/><circle class="g" cx="930" cy="0" r="4.8"/>
<rect class="bo" x="330" y="0" width="480" height="60"/>
<text class="mn" y="-7"><tspan x="0">121</tspan><tspan x="240">122</tspan><tspan x="480">123</tspan><tspan x="720">124</tspan></text>
<text class="s1" y="75"><tspan x="238.5">26</tspan><tspan x="478.5">192</tspan><tspan x="718.5">220</tspan><tspan x="958.5">152</tspan></text>
<text class="s2" y="88.3"><tspan x="238.5">142725</tspan><tspan x="478.5">145029</tspan><tspan x="718.5">147669</tspan><tspan x="958.5">148989</tspan></text>
<text class="s3" y="101.7"><tspan x="238.5">25.00%</tspan><tspan x="478.5">17.16%</tspan><tspan x="718.5">4.66%</tspan><tspan x="958.5">0.00%</tspan></text>
</g>

<g id="r32" transform="translate(31.5,4960.5)">
<use href="#m"/><use href="#m" x="240"/><use href="#m" x="480"/><use href="#m" x="720"/>
<use href="#pB"/>
<path class="sg" d="M930 0h30"/><circle class="g" cx="930" cy="0" r="4.8"/>
<text class="mn" y="-7"><tspan x="0">125</tspan><tspan x="240">126</tspan><tspan x="480">127</tspan><tspan x="720">128</tspan></text>
<text class="s1" y="75"><tspan x="238.5">26</tspan><tspan x="478.5">192</tspan><tspan x="718.5">220</tspan><tspan x="958.5">152</tspan></text>
<text class="s2" y="88.3"><tspan x="238.5">149145</tspan><tspan x="478.5">150297</tspan><tspan x="718.5">151617</tspan><tspan x="958.5">152529</tspan></text>
<text class="s3" y="101.7"><tspan x="238.5">0.00%</tspan><tspan x="478.5">0.00%</tspan><tspan x="718.5">0.00%</tspan><tspan x="958.5">0.00%</tspan></text>
</g>

<g id="r33" transform="translate(31.5,5113.5)">
<use href="#m"/><use href="#m" x="240"/><use href="#m" x="480"/><use href="#m" x="720"/>
<use href="#pB"/>
<path class="sg" d="M945 0h15"/><circle class="g" cx="945" cy="0" r="4.8"/>
<text class="mn" y="-7"><tspan x="0">129</tspan><tspan x="240">130</tspan><tspan x="480">131</tspan><tspan x="720">132</tspan></text>
<text class="s1" y="75"><tspan x="238.5">26</tspan><tspan x="478.5">192</tspan><tspan x="718.5">220</tspan><tspan x="958.5">146</tspan></text>
<text class="s2" y="88.3"><tspan x="238.5">152685</tspan><tspan x="478.5">153837</tspan><tspan x="718.5">155157</tspan><tspan x="958.5">156033</tspan></text>
<text class="s3" y="101.7"><tspan x="238.5">0.00%</tspan><tspan x="478.5">0.00%</tspan><tspan x="718.5">0.00%</tspan><tspan x="958.5">0.00%</tspan></text>
</g>

<g id="r34" transform="translate(31.5,5266.5)">
<use href="#m"/><use href="#m" x="240"/>
<path class="sg" d="M0 0h60"/><path class="sr" d="M230 15h164"/>
<circle class="r" cx="180" cy="15" r="4.8"/><circle class="y" cx="203" cy="30" r="4.8"/><circle class="r" cx="230" cy="15" r="4.8"/>
<text class="mn" y="-7"><tspan x="0">133</tspan><tspan x="240">134</tspan></text>
<text class="s1" y="75"><tspan x="238.5">138</tspan><tspan x="478.5">65</tspan></text>
<text class="s2" y="88.3"><tspan x="238.5">156861</tspan><tspan x="478.5">157251</tspan></text>
<text class="s3" y="101.7"><tspan x="238.5">0.00%</tspan><tspan x="478.5">0.00%</tspan></text>
</g>
</g>
</svg>
